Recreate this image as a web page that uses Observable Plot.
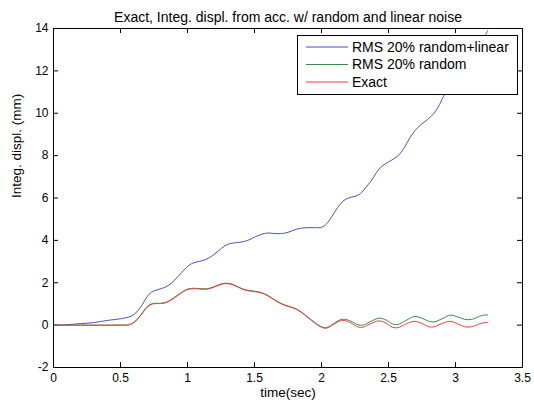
<!DOCTYPE html>
<html>
<head>
<meta charset="utf-8">
<script src="https://cdn.jsdelivr.net/npm/d3@7"></script>
<script src="https://cdn.jsdelivr.net/npm/@observablehq/plot@0.6"></script>
<style>
  body { margin: 0; background: #fff; }
  svg { font-family: "Liberation Sans", Arial, Helvetica, sans-serif; }
</style>
</head>
<body>
<div id="chart"></div>
<script>
// Exact displacement (mm) vs time (s)
const exactT = [0, 0.5, 0.56, 0.6, 0.65, 0.7, 0.74, 0.8, 0.85, 0.9, 0.95, 1.0, 1.05, 1.1, 1.15, 1.2, 1.25, 1.29, 1.33, 1.38, 1.43, 1.5, 1.55, 1.6, 1.65, 1.7, 1.75, 1.8, 1.85, 1.9, 1.95, 2.0, 2.03, 2.07, 2.12, 2.17, 2.22, 2.27, 2.31, 2.36, 2.43, 2.48, 2.53, 2.57, 2.62, 2.69, 2.75, 2.8, 2.84, 2.9, 2.96, 3.02, 3.07, 3.12, 3.18, 3.22, 3.24];
const exactV = [0, 0, 0.01, 0.12, 0.45, 0.85, 1.0, 1.02, 1.08, 1.28, 1.5, 1.68, 1.72, 1.7, 1.7, 1.8, 1.92, 1.96, 1.92, 1.78, 1.65, 1.58, 1.52, 1.38, 1.18, 1.0, 0.88, 0.78, 0.6, 0.35, 0.1, -0.1, -0.15, -0.05, 0.15, 0.22, 0.1, -0.08, -0.1, 0.05, 0.2, 0.1, -0.1, -0.12, 0.02, 0.18, 0.08, -0.08, -0.08, 0.08, 0.18, 0.05, -0.08, -0.08, 0.06, 0.12, 0.12];

// Integrated displacement with 20% RMS random noise
const randT = [0, 0.5, 0.56, 0.6, 0.65, 0.7, 0.74, 0.8, 0.85, 0.9, 0.95, 1.0, 1.05, 1.1, 1.15, 1.2, 1.25, 1.29, 1.33, 1.38, 1.43, 1.5, 1.55, 1.6, 1.65, 1.7, 1.75, 1.8, 1.85, 1.9, 1.95, 2.0, 2.03, 2.07, 2.12, 2.17, 2.22, 2.27, 2.31, 2.36, 2.43, 2.48, 2.53, 2.57, 2.62, 2.69, 2.75, 2.8, 2.84, 2.9, 2.96, 3.02, 3.07, 3.12, 3.18, 3.22, 3.24];
const randV = [0, 0, 0.01, 0.13, 0.47, 0.88, 1.02, 1.03, 1.1, 1.3, 1.52, 1.7, 1.74, 1.72, 1.72, 1.82, 1.94, 1.98, 1.94, 1.8, 1.67, 1.6, 1.54, 1.4, 1.2, 1.02, 0.9, 0.8, 0.62, 0.37, 0.12, -0.08, -0.12, -0.02, 0.2, 0.28, 0.18, 0.02, 0.0, 0.15, 0.33, 0.25, 0.06, 0.03, 0.18, 0.4, 0.33, 0.18, 0.15, 0.3, 0.47, 0.38, 0.27, 0.27, 0.42, 0.48, 0.48];

// Integrated displacement with 20% RMS random + linear noise
const linT = [0, 0.1, 0.2, 0.3, 0.4, 0.5, 0.56, 0.6, 0.65, 0.7, 0.73, 0.78, 0.83, 0.88, 0.93, 0.98, 1.03, 1.08, 1.13, 1.18, 1.23, 1.28, 1.32, 1.4, 1.45, 1.5, 1.55, 1.6, 1.65, 1.7, 1.75, 1.8, 1.85, 1.9, 1.95, 2.0, 2.04, 2.08, 2.12, 2.16, 2.2, 2.25, 2.29, 2.33, 2.37, 2.41, 2.45, 2.5, 2.54, 2.58, 2.62, 2.66, 2.7, 2.74, 2.79, 2.84, 2.88, 2.92, 2.96, 3.0, 3.05, 3.1, 3.15, 3.2, 3.24];
const linV = [0, 0.02, 0.07, 0.12, 0.22, 0.3, 0.38, 0.5, 0.85, 1.35, 1.55, 1.68, 1.78, 1.98, 2.3, 2.65, 2.9, 3.0, 3.08, 3.25, 3.5, 3.75, 3.85, 3.92, 4.0, 4.15, 4.28, 4.35, 4.32, 4.32, 4.38, 4.5, 4.58, 4.6, 4.6, 4.62, 4.8, 5.15, 5.55, 5.85, 6.0, 6.08, 6.2, 6.5, 6.8, 7.2, 7.5, 7.7, 7.85, 8.05, 8.4, 8.85, 9.2, 9.45, 9.7, 10.0, 10.4, 10.9, 11.2, 11.45, 11.8, 12.4, 12.9, 13.4, 13.9];

const xTicks = [0, 0.5, 1, 1.5, 2, 2.5, 3, 3.5];
const yTicks = [-2, 0, 2, 4, 6, 8, 10, 12, 14];

const seriesNames = ["RMS 20% random+linear", "RMS 20% random", "Exact"];
const seriesColors = ["#4355b8", "#3a8c4c", "#f03c3c"];

const titleText = "Exact, Integ. displ. from acc. w/ random and linear noise";
const xLabel = "time(sec)";
const yLabel = "Integ. displ. (mm)";

const pts = (T, V) => T.map((t, i) => ({t, v: V[i]}));
const linData = pts(linT, linV);
const randData = pts(randT, randV);
const exactData = pts(exactT, exactV);

const W = 534, H = 405;
const mL = 53, mR = 12, mT = 28, mB = 38;
const fw = W - mL - mR, fh = H - mT - mB;
const tick = 5;

const chart = Plot.plot({
  width: W,
  height: H,
  marginLeft: mL,
  marginRight: mR,
  marginTop: mT,
  marginBottom: mB,
  style: {background: "#fff", color: "#000", fontSize: "12px", fontFamily: "'Liberation Sans', Arial, sans-serif"},
  x: {domain: [0, 3.5]},
  y: {domain: [-2, 14]},
  marks: [
    Plot.axisX(xTicks, {tickSize: 0, tickPadding: 6, label: null, fontSize: 12, tickFormat: d => String(d)}),
    Plot.axisY(yTicks, {tickSize: 0, tickPadding: 5, label: null, fontSize: 12, tickFormat: d => String(d)}),
    // inward ticks on all four sides
    Plot.ruleX(xTicks, {x: d => d, insetTop: fh - tick, stroke: "#000"}),
    Plot.ruleX(xTicks, {x: d => d, insetBottom: fh - tick, stroke: "#000"}),
    Plot.ruleY(yTicks, {y: d => d, insetRight: fw - tick, stroke: "#000"}),
    Plot.ruleY(yTicks, {y: d => d, insetLeft: fw - tick, stroke: "#000"}),
    Plot.line(linData, {x: "t", y: "v", stroke: seriesColors[0], strokeWidth: 1, curve: "catmull-rom"}),
    Plot.line(randData, {x: "t", y: "v", stroke: seriesColors[1], strokeWidth: 1, curve: "catmull-rom"}),
    Plot.line(exactData, {x: "t", y: "v", stroke: seriesColors[2], strokeWidth: 1, curve: "catmull-rom"}),
    Plot.frame({stroke: "#000", strokeWidth: 1}),
    Plot.text([titleText], {frameAnchor: "top", dy: -16, fontSize: 14, fill: "#000"}),
    Plot.text([xLabel], {frameAnchor: "bottom", dy: 29, fontSize: 13.5, fill: "#000"}),
    Plot.text([yLabel], {frameAnchor: "left", dx: -37, rotate: -90, fontSize: 13.5, fill: "#000"})
  ]
});

// legend box in the upper right of the axes
const svg = d3.select(chart);
const lg = svg.append("g")
  .attr("font-size", 14)
  .attr("fill", "#000")
  .attr("text-anchor", "start");
lg.append("rect")
  .attr("x", 297.5).attr("y", 35.5).attr("width", 220).attr("height", 59)
  .attr("fill", "#fff").attr("stroke", "#000").attr("stroke-width", 1);
seriesNames.forEach((name, i) => {
  const cy = 47 + i * 17.5;
  lg.append("line")
    .attr("x1", 306).attr("x2", 348).attr("y1", cy).attr("y2", cy)
    .attr("stroke", seriesColors[i]).attr("stroke-width", 1);
  lg.append("text")
    .attr("x", 352).attr("y", cy).attr("dy", "0.35em")
    .attr("text-anchor", "start")
    .text(name);
});

document.getElementById("chart").appendChild(chart);
</script>
</body>
</html>
